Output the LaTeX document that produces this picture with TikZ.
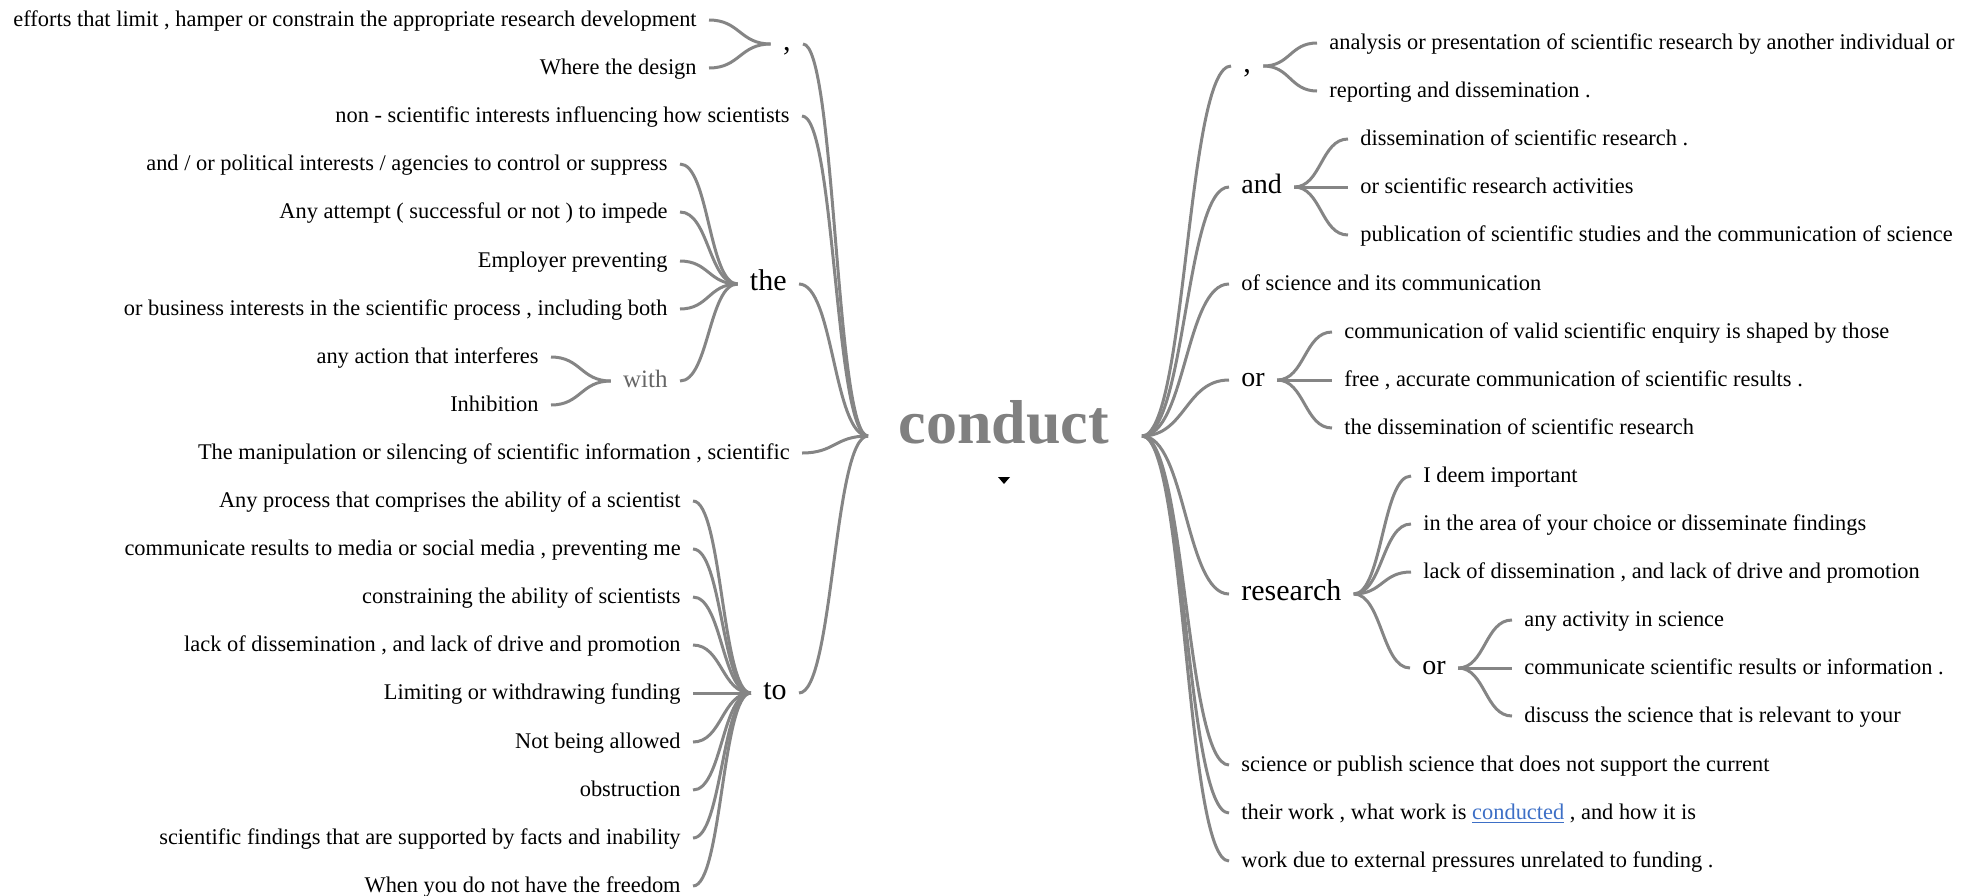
\documentclass[tikz,border=0pt]{standalone}
\usepackage{fontspec}
\setmainfont{Liberation Serif}
\usetikzlibrary{calc}

\definecolor{twiggray}{HTML}{858585}
\definecolor{rootgray}{HTML}{808080}
\definecolor{withgray}{HTML}{666666}
\definecolor{linkblue}{HTML}{3D6FC6}

% S-shaped word-tree branch between two points
\newcommand{\twig}[2]{\draw[twig] let \p1=(#1), \p2=(#2) in (\p1) .. controls ({(\x1+\x2)/2},\y1) and ({(\x1+\x2)/2},\y2) .. (\p2);}

\begin{document}
\begin{tikzpicture}[x = 0.5pt, y = -0.5pt,
	twig/.style = {twiggray, line width = 1.5pt},
	leaf/.style = {font = \fontsize{11.2}{13}\selectfont, inner xsep = 6pt, inner ysep = 0pt, text height = 1.7ex, text depth = .25ex},
	joint/.style = {leaf, font = \fontsize{15}{17}\selectfont}]
	\useasboundingbox (0,0) rectangle (1975,895);

	\begin{scope}
		\node [font = \fontsize{31}{33}\selectfont\bfseries, text = rootgray] (conduct) at (1004,422) {conduct};
		\coordinate (rootL) at (868,436);
		\coordinate (rootR) at (1142,436);
		\fill (998,477) -- (1010,477) -- (1004,484) -- cycle;
	\end{scope}

	% left side
	\begin{scope}[every node/.append style = {anchor = east}]
		\node [joint] (commaL) at (803,44) {,};
		\node [leaf] (efforts) at (709,20) {efforts that limit , hamper or constrain the appropriate research development};
		\node [leaf] (design) at (709,68) {Where the design};
		\node [leaf] (nonsci) at (802,116) {non - scientific interests influencing how scientists};
		\node [joint] (the) at (799,284) {the};
		\node [leaf] (political) at (680,164) {and / or political interests / agencies to control or suppress};
		\node [leaf] (attempt) at (680,212) {Any attempt ( successful or not ) to impede};
		\node [leaf] (employer) at (680,261) {Employer preventing};
		\node [leaf] (business) at (680,309) {or business interests in the scientific process , including both};
		\node [joint, font = \fontsize{12.5}{14}\selectfont, text = withgray] (with) at (680,381) {with};
		\node [leaf] (action) at (551,357) {any action that interferes};
		\node [leaf] (inhibition) at (551,405) {Inhibition};
		\node [leaf] (manip) at (802,453) {The manipulation or silencing of scientific information , scientific};
		\node [joint] (to) at (799,693) {to};
		\node [leaf] (process) at (693,501) {Any process that comprises the ability of a scientist};
		\node [leaf] (media) at (693,549) {communicate results to media or social media , preventing me};
		\node [leaf] (constraining) at (693,597) {constraining the ability of scientists};
		\node [leaf] (lackL) at (693,645) {lack of dissemination , and lack of drive and promotion};
		\node [leaf] (funding) at (693,693) {Limiting or withdrawing funding};
		\node [leaf] (allowed) at (693,742) {Not being allowed};
		\node [leaf] (obstruction) at (693,790) {obstruction};
		\node [leaf] (findings) at (693,838) {scientific findings that are supported by facts and inability};
		\node [leaf] (freedom) at (693,886) {When you do not have the freedom};
	\end{scope}

	% right side
	\begin{scope}[every node/.append style = {anchor = west}]
		\node [joint] (commaR) at (1231,66) {,};
		\node [leaf] (analysis) at (1317,43) {analysis or presentation of scientific research by another individual or};
		\node [leaf] (reporting) at (1317,91) {reporting and dissemination .};
		\node [joint, font = \fontsize{14}{16}\selectfont] (and) at (1229,187) {and};
		\node [leaf] (dissem) at (1348,139) {dissemination of scientific research .};
		\node [leaf] (activities) at (1348,187) {or scientific research activities};
		\node [leaf] (publication) at (1348,235) {publication of scientific studies and the communication of science};
		\node [leaf] (ofscience) at (1229,284) {of science and its communication};
		\node [joint, font = \fontsize{14}{16}\selectfont] (orA) at (1229,380) {or};
		\node [leaf] (valid) at (1332,332) {communication of valid scientific enquiry is shaped by those};
		\node [leaf] (accurate) at (1332,380) {free , accurate communication of scientific results .};
		\node [leaf] (thediss) at (1332,428) {the dissemination of scientific research};
		\node [joint] (research) at (1229,594) {research};
		\node [leaf] (deem) at (1411,476) {I deem important};
		\node [leaf] (area) at (1411,524) {in the area of your choice or disseminate findings};
		\node [leaf] (lackR) at (1411,572) {lack of dissemination , and lack of drive and promotion};
		\node [joint, font = \fontsize{14}{16}\selectfont] (orB) at (1410,668) {or};
		\node [leaf] (activity) at (1512,620) {any activity in science};
		\node [leaf] (results) at (1512,668) {communicate scientific results or information .};
		\node [leaf] (discuss) at (1512,716) {discuss the science that is relevant to your};
		\node [leaf] (publish) at (1229,765) {science or publish science that does not support the current};
		\node [leaf] (theirwork) at (1229,813) {their work , what work is \textcolor{linkblue}{\underline{conducted}} , and how it is};
		\node [leaf] (external) at (1229,861) {work due to external pressures unrelated to funding .};
	\end{scope}

	% branches
	\foreach \b in {commaL, nonsci, the, manip, to}
		{\twig{rootL}{\b.east}}
	\foreach \b in {efforts, design}
		{\twig{commaL.west}{\b.east}}
	\foreach \b in {political, attempt, employer, business, with}
		{\twig{the.west}{\b.east}}
	\foreach \b in {action, inhibition}
		{\twig{with.west}{\b.east}}
	\foreach \b in {process, media, constraining, lackL, funding, allowed, obstruction, findings, freedom}
		{\twig{to.west}{\b.east}}

	\foreach \b in {commaR, and, ofscience, orA, research, publish, theirwork, external}
		{\twig{rootR}{\b.west}}
	\foreach \b in {analysis, reporting}
		{\twig{commaR.east}{\b.west}}
	\foreach \b in {dissem, activities, publication}
		{\twig{and.east}{\b.west}}
	\foreach \b in {valid, accurate, thediss}
		{\twig{orA.east}{\b.west}}
	\foreach \b in {deem, area, lackR, orB}
		{\twig{research.east}{\b.west}}
	\foreach \b in {activity, results, discuss}
		{\twig{orB.east}{\b.west}}
\end{tikzpicture}
\end{document}
